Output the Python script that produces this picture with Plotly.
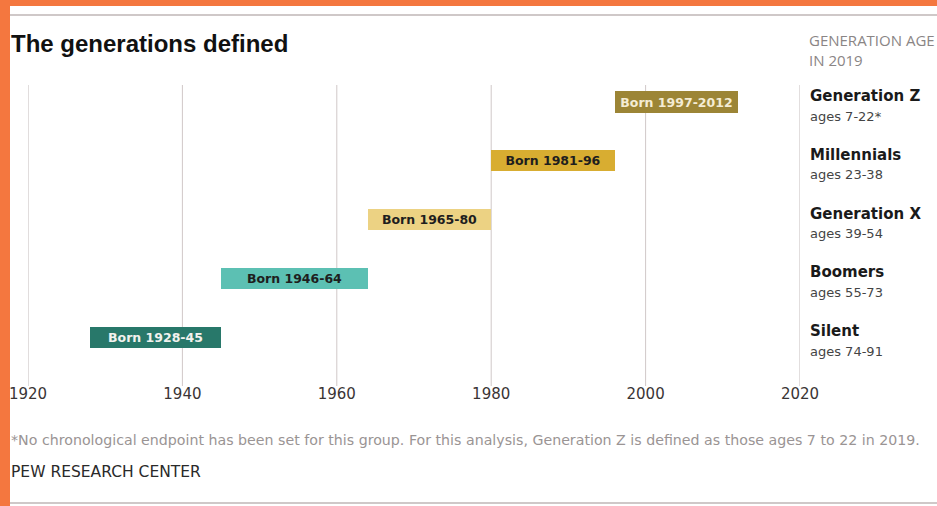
import plotly.graph_objects as go

generations = ["Silent", "Boomers", "Generation X", "Millennials", "Generation Z"]
age_labels = ["ages 74-91", "ages 55-73", "ages 39-54", "ages 23-38", "ages 7-22*"]
bar_labels = ["Born 1928-45", "Born 1946-64", "Born 1965-80", "Born 1981-96", "Born 1997-2012"]
bar_start = [1928, 1945, 1964, 1980, 1996]
bar_end = [1945, 1964, 1980, 1996, 2012]
bar_colors = ["#28786a", "#5cc0b3", "#ecd283", "#d8ad31", "#9c8536"]
text_colors = ["#f2f2ee", "#1e1e1e", "#1e1e1e", "#1e1e1e", "#f4ecd4"]
tick_vals = [1920, 1940, 1960, 1980, 2000, 2020]

W, H = 937, 506
L, R, T, B = 28, 800, 85, 380


def px(x):
    return (x - L) / (R - L)


def py(y):
    return (B - y) / (B - T)


ypos = list(range(len(generations)))

fig = go.Figure()
fig.add_trace(go.Bar(
    y=ypos,
    x=[e - s for s, e in zip(bar_start, bar_end)],
    base=bar_start,
    orientation="h",
    width=0.36,
    marker=dict(color=bar_colors, line=dict(width=0)),
    text=bar_labels,
    textposition="inside",
    insidetextanchor="middle",
    constraintext="none",
    textangle=0,
    textfont=dict(color=text_colors, size=12.5, family="DejaVu Sans", weight="bold"),
    hoverinfo="skip",
    cliponaxis=False,
))

annotations = []
for i, (g, a) in enumerate(zip(generations, age_labels)):
    annotations.append(dict(
        xref="paper", yref="y", x=px(808), y=i, yshift=6,
        text="<b>" + g + "</b>", showarrow=False, xanchor="left", yanchor="middle",
        font=dict(family="DejaVu Sans", size=15, color="#1a1a1a"),
    ))
    annotations.append(dict(
        xref="paper", yref="y", x=px(808), y=i, yshift=-14,
        text=a, showarrow=False, xanchor="left", yanchor="middle",
        font=dict(family="DejaVu Sans", size=13, color="#444444"),
    ))

annotations += [
    dict(xref="paper", yref="paper", x=px(9), y=py(43), text="<b>The generations defined</b>",
         showarrow=False, xanchor="left", yanchor="middle",
         font=dict(family="Liberation Sans", size=24, color="#111111")),
    dict(xref="paper", yref="paper", x=px(807), y=py(40), text="GENERATION AGE",
         showarrow=False, xanchor="left", yanchor="middle",
         font=dict(family="Open Sans", size=15, color="#8a8585")),
    dict(xref="paper", yref="paper", x=px(807), y=py(60), text="IN 2019",
         showarrow=False, xanchor="left", yanchor="middle",
         font=dict(family="Open Sans", size=15, color="#8a8585")),
    dict(xref="paper", yref="paper", x=px(9), y=py(440),
         text="*No chronological endpoint has been set for this group. For this analysis, Generation Z is defined as those ages 7 to 22 in 2019.",
         showarrow=False, xanchor="left", yanchor="middle",
         font=dict(family="DejaVu Sans", size=14.2, color="#9a9494")),
    dict(xref="paper", yref="paper", x=px(9), y=py(472), text="PEW RESEARCH CENTER",
         showarrow=False, xanchor="left", yanchor="middle",
         font=dict(family="DejaVu Sans", size=15.5, color="#2a2a2a")),
]

shapes = [
    dict(type="rect", xref="paper", yref="paper", x0=px(0), x1=px(10), y0=py(H), y1=py(0),
         fillcolor="#f4773f", line=dict(width=0), layer="below"),
    dict(type="rect", xref="paper", yref="paper", x0=px(0), x1=px(W), y0=py(6), y1=py(0),
         fillcolor="#f4773f", line=dict(width=0), layer="below"),
    dict(type="line", xref="paper", yref="paper", x0=px(10), x1=px(W), y0=py(15), y1=py(15),
         line=dict(color="#cfc8c8", width=2)),
    dict(type="line", xref="paper", yref="paper", x0=px(10), x1=px(W), y0=py(503), y1=py(503),
         line=dict(color="#cfc8c8", width=2)),
]
for t in tick_vals:
    shapes.append(dict(type="line", xref="x", yref="paper", x0=t, x1=t, y0=py(386), y1=1,
                       line=dict(color="#d0c8c8" if t not in (1920, 2020) else "#c4bcbc", width=1),
                       layer="below"))

fig.update_layout(
    width=W, height=H,
    margin=dict(l=L, r=W - R, t=T, b=H - B, pad=0, autoexpand=False),
    paper_bgcolor="white", plot_bgcolor="white",
    showlegend=False,
    annotations=annotations,
    shapes=shapes,
    xaxis=dict(
        range=[1920, 2020], tickvals=tick_vals, ticktext=[str(t) for t in tick_vals],
        showgrid=False, automargin=False,
        ticks="", ticklen=0, ticklabelstandoff=3,
        showline=False, zeroline=False,
        tickfont=dict(family="DejaVu Sans", size=15, color="#3a3535"),
        fixedrange=True,
    ),
    yaxis=dict(
        range=[-0.73, 4.29], showgrid=False, showticklabels=False, zeroline=False,
        showline=False, fixedrange=True, automargin=False,
    ),
    bargap=0,
)

fig.write_html("out.html")
